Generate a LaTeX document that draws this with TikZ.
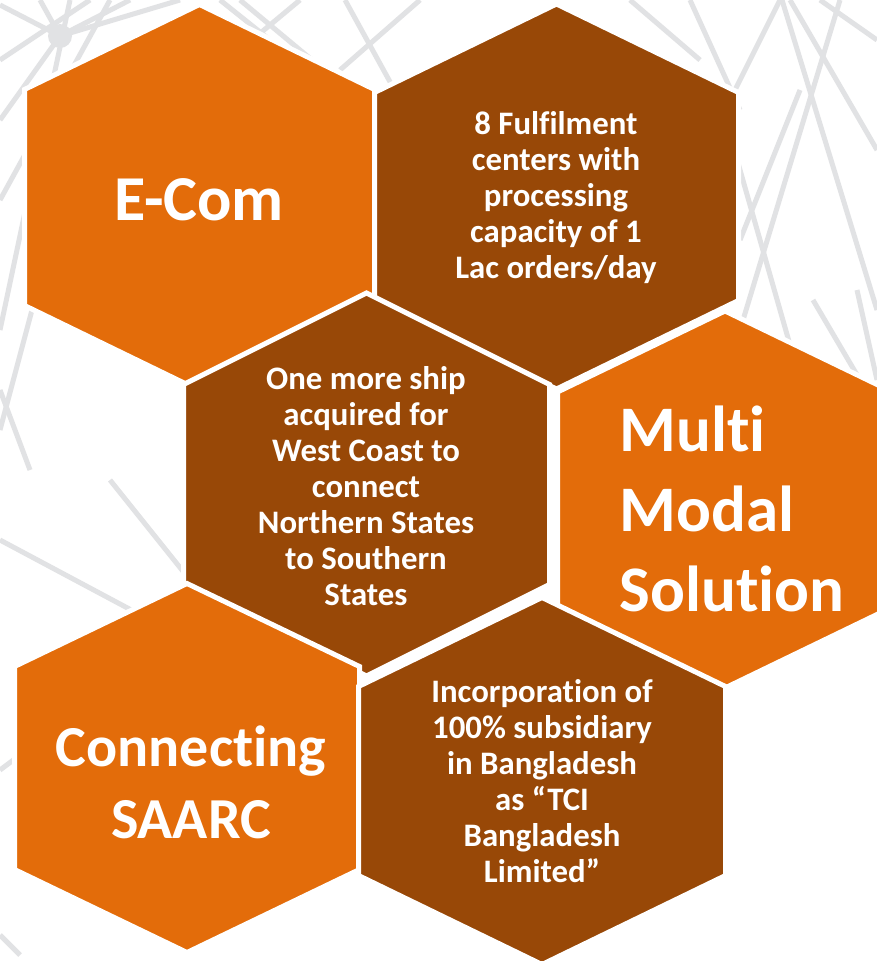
\documentclass[tikz,border=0pt]{standalone}
\usepackage{fontspec}
\setmainfont{Carlito}[Ligatures={NoCommon,NoContextual,NoRare}]
\usetikzlibrary{positioning}

\definecolor{hexorange}{RGB}{227,108,10}
\definecolor{hexbrown}{RGB}{152,72,7}
\definecolor{wire}{RGB}{225,226,228}

\tikzset{
  cell/.style={draw=white,line width=5pt,line join=miter},
  bigtxt/.style={text=white,font=\bfseries,align=center,inner sep=0pt},
  smalltxt/.style={text=white,font=\fontsize{32.8}{36}\selectfont\bfseries,align=center,inner sep=0pt},
  wireline/.style={draw=wire,line width=5pt}
}

% cx, cy, half width, half height, shoulder, colour
\newcommand{\hexcell}[6]{%
  \fill[cell,fill=#6] (#1,#2-#4) -- (#1+#3,#2-#5) -- (#1+#3,#2+#5) -- (#1,#2+#4)
    -- (#1-#3,#2+#5) -- (#1-#3,#2-#5) -- cycle;}

\begin{document}
\begin{tikzpicture}[x=1pt,y=-1pt]
\useasboundingbox (0,0) rectangle (877,961);
\clip (0,0) rectangle (877,961);
\fill[white] (0,0) rectangle (877,961);

\foreach \a/\b/\c/\d in {0/5/60/36, 60/36/130/0, 60/36/40/0, 60/36/0/120, 60/36/180/0,
    0/200/110/0, 0/330/70/0, 0/430/40/280, 0/540/150/620, 110/480/190/580,
    0/770/20/755, 0/935/20/955, 0/390/30/470, 0/60/90/0,
    240/0/330/75, 300/0/240/50, 345/0/400/100, 420/0/340/70, 220/0/270/40,
    630/0/700/60, 690/0/740/110, 780/0/700/160, 782/0/877/310, 840/0/740/330,
    720/100/800/380, 800/90/740/240, 813/300/860/380, 857/290/877/380,
    877/40/820/0, 877/150/790/0}
  \draw[wireline] (\a,\b) -- (\c,\d);
\fill[wire] (60,36) circle (12);

\hexcell{199.5}{197.5}{175}{193}{108}{hexorange}
\hexcell{556.5}{196.5}{182}{192.5}{104}{hexbrown}
\hexcell{725}{499.5}{167.5}{188.5}{107.5}{hexorange}
\hexcell{366.5}{484.5}{183}{191.5}{100}{hexbrown}
\hexcell{187}{768}{172.5}{184.5}{101.5}{hexorange}
\hexcell{542}{781}{183.5}{183.5}{94.5}{hexbrown}

\node[bigtxt,font=\fontsize{64}{78}\selectfont\bfseries] (ecom) at (199,200) {E-Com};
\node[smalltxt] (fulfil) at (556,198) {8 Fulfilment\\centers with\\processing\\capacity of 1\\Lac orders/day};
\node[smalltxt] (ship) at (366,486) {One more ship\\acquired for\\West Coast to\\connect\\Northern States\\to Southern\\States};
\node[bigtxt,align=left,font=\fontsize{65}{80}\selectfont\bfseries] (multi) at (732,509) {Multi\\Modal\\Solution};
\node[bigtxt,font=\fontsize{58}{72}\selectfont\bfseries] (saarc) at (191,782) {Connecting\\SAARC};
\node[smalltxt] (bangla) at (542,781) {Incorporation of\\100\% subsidiary\\in Bangladesh\\as “TCI\\Bangladesh\\Limited”};
\end{tikzpicture}
\end{document}
